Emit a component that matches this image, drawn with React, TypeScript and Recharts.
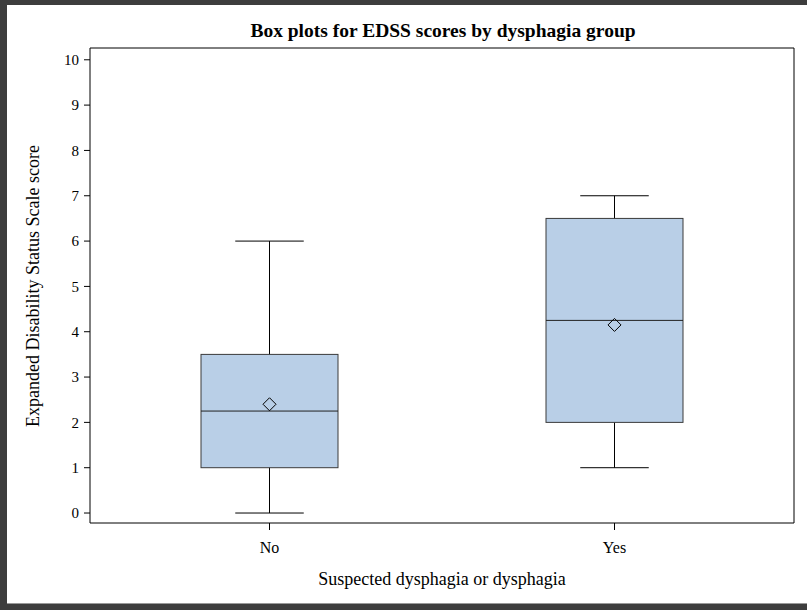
import React from 'react';
import {
  ComposedChart,
  Bar,
  Scatter,
  XAxis,
  YAxis,
  CartesianGrid,
} from 'recharts';

const categories = ['No', 'Yes'];
const minVals = [0, 1];
const q1Vals = [1, 2];
const medianVals = [2.25, 4.25];
const q3Vals = [3.5, 6.5];
const maxVals = [6, 7];
const meanVals = [2.4, 4.15];
const yTicks = [0, 1, 2, 3, 4, 5, 6, 7, 8, 9, 10];

const data = categories.map((name, i) => ({
  name,
  range: [minVals[i], maxVals[i]],
  min: minVals[i],
  q1: q1Vals[i],
  median: medianVals[i],
  q3: q3Vals[i],
  max: maxVals[i],
  mean: meanVals[i],
}));

const FONT = '"Liberation Serif", "DejaVu Serif", serif';
const Y_MIN = -0.22;
const Y_MAX = 10.26;

// draws whisker + box + median from the bar's [min, max] pixel span
const BoxShape = (props: any) => {
  const { x, y, width, height, payload } = props;
  const top = Math.min(y, y + height);
  const ppu = Math.abs(height) / (payload.max - payload.min);
  const toY = (v: number) => top + (payload.max - v) * ppu;
  const cx = x + width / 2;
  const capHalf = width / 4;
  return (
    <g>
      <line x1={cx} x2={cx} y1={toY(payload.max)} y2={toY(payload.min)} stroke="#000" strokeWidth={1} />
      <line x1={cx - capHalf} x2={cx + capHalf} y1={toY(payload.max)} y2={toY(payload.max)} stroke="#000" strokeWidth={1} />
      <line x1={cx - capHalf} x2={cx + capHalf} y1={toY(payload.min)} y2={toY(payload.min)} stroke="#000" strokeWidth={1} />
      <rect
        x={x}
        y={toY(payload.q3)}
        width={width}
        height={toY(payload.q1) - toY(payload.q3)}
        fill="#b9cfe7"
        stroke="#3a3a3a"
        strokeWidth={1}
      />
      <line x1={x} x2={x + width} y1={toY(payload.median)} y2={toY(payload.median)} stroke="#222" strokeWidth={1} />
    </g>
  );
};

const Diamond = (props: any) => {
  const { cx, cy } = props;
  const r = 6.5;
  return (
    <path
      d={`M${cx},${cy - r} L${cx + r},${cy} L${cx},${cy + r} L${cx - r},${cy} Z`}
      fill="none"
      stroke="#000"
      strokeWidth={1}
    />
  );
};

export default function App() {
  return (
    <div style={{ position: 'absolute', left: 0, top: 0, width: 807, height: 610, background: '#3d3d3d' }}>
      <div
        style={{
          position: 'absolute',
          left: 7,
          top: 5,
          width: 800,
          height: 598,
          background: '#fff',
          borderBottom: '1px solid #999',
        }}
      />
      <div style={{ position: 'absolute', left: 0, top: 0 }}>
        <ComposedChart
          width={807}
          height={610}
          data={data}
          margin={{ top: 48, right: 13, bottom: 57, left: 0 }}
          style={{ fontFamily: FONT }}
        >
          {/* plot frame: only the outer edges of the plot area */}
          <CartesianGrid
            stroke="#000"
            strokeWidth={1}
            horizontalCoordinatesGenerator={({ offset }: any) => [offset.top, offset.top + offset.height]}
            verticalCoordinatesGenerator={({ offset }: any) => [offset.left, offset.left + offset.width]}
          />
          <XAxis
            dataKey="name"
            type="category"
            padding={{ left: 7, right: 7 }}
            height={30}
            tickSize={7}
            tickMargin={12}
            tickLine={{ stroke: '#000' }}
            axisLine={false}
            tick={{ fill: '#000', fontSize: 16, fontFamily: FONT }}
          />
          <YAxis
            type="number"
            domain={[Y_MIN, Y_MAX]}
            ticks={yTicks}
            allowDataOverflow
            width={90}
            tickSize={6}
            tickMargin={5}
            tickLine={{ stroke: '#000' }}
            axisLine={false}
            tick={{ fill: '#000', fontSize: 15, fontFamily: FONT }}
          />
          <Bar dataKey="range" barSize={137} shape={<BoxShape />} isAnimationActive={false} />
          <Scatter dataKey="mean" shape={<Diamond />} isAnimationActive={false} />
        </ComposedChart>
      </div>
      <svg
        width={807}
        height={610}
        style={{ position: 'absolute', left: 0, top: 0, pointerEvents: 'none', fontFamily: FONT }}
      >
        <text x={443} y={37} textAnchor="middle" fontSize={19.5} fontWeight="bold" fill="#000">
          Box plots for EDSS scores by dysphagia group
        </text>
        <text x={442} y={585} textAnchor="middle" fontSize={18} fill="#000">
          Suspected dysphagia or dysphagia
        </text>
        <text
          x={0}
          y={0}
          transform="translate(39, 286) rotate(-90)"
          textAnchor="middle"
          fontSize={18}
          fill="#000"
        >
          Expanded Disability Status Scale score
        </text>
      </svg>
    </div>
  );
}
